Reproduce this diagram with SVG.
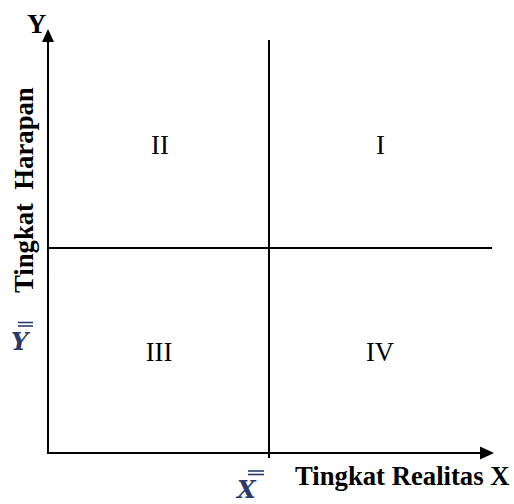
<svg xmlns="http://www.w3.org/2000/svg" width="514" height="504" viewBox="0 0 514 504">
<style>
.ax{stroke:#000;stroke-width:2;fill:none}
.lbl{font-family:"Liberation Serif","Times New Roman",serif;font-weight:bold;font-size:26.7px;fill:#000}
.q{font-family:"Liberation Serif","Times New Roman",serif;font-size:26.7px;fill:#000;text-anchor:middle}
.bar{font-family:"DejaVu Serif",serif;font-style:italic;font-weight:bold;fill:#2a3a6a}
.ol{stroke:#2a3a6a;stroke-width:1.6}
</style>
<rect width="514" height="504" fill="#fff"/>
<g id="connectors">
<line class="ax" x1="48" y1="454" x2="48" y2="40"/>
<polygon points="48,29 42,42 54,42" fill="#000"/>
<line class="ax" x1="47" y1="453" x2="482" y2="453"/>
<polygon points="494,453 480,446.5 480,459.5" fill="#000"/>
<line class="ax" x1="269" y1="40" x2="269" y2="458"/>
<line class="ax" x1="48" y1="248" x2="492" y2="248"/>
</g>
<g id="axis-y-label"><text class="lbl" x="27" y="33">Y</text></g>
<g id="axis-y-title"><text class="lbl" xml:space="preserve" transform="translate(33,293) rotate(-90)">Tingkat  Harapan</text></g>
<g id="axis-x-title"><text class="lbl" x="295" y="485">Tingkat Realitas X</text></g>
<g id="quadrant-II"><text class="q" x="160" y="154">II</text></g>
<g id="quadrant-I"><text class="q" x="380.5" y="154">I</text></g>
<g id="quadrant-III"><text class="q" x="159" y="361">III</text></g>
<g id="quadrant-IV"><text class="q" x="380" y="361">IV</text></g>
<g id="y-mean">
<text class="bar" x="11" y="350" font-size="24">Y</text>
<line class="ol" x1="18" y1="322.5" x2="33" y2="322.5"/>
<line class="ol" x1="18" y1="326" x2="33" y2="326"/>
</g>
<g id="x-mean">
<text class="bar" x="237" y="498" font-size="24">X</text>
<line class="ol" x1="248" y1="471" x2="264" y2="471"/>
<line class="ol" x1="248" y1="474.5" x2="264" y2="474.5"/>
</g>
</svg>
